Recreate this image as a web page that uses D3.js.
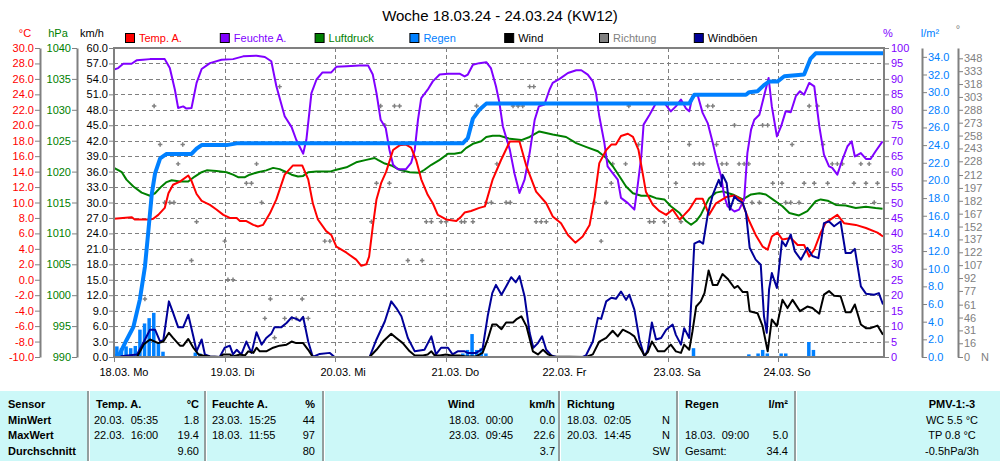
<!DOCTYPE html>
<html><head><meta charset="utf-8">
<script src="https://cdn.jsdelivr.net/npm/d3@7"></script>
<style>
body{margin:0;background:#fff;}
svg{display:block;font-family:"Liberation Sans",Arial,sans-serif;}
.pre{white-space:pre;}
</style>
</head><body><svg id="c" width="1000" height="461"></svg>
<script>
// ---------- DATA (time in hours from 18.03.24 00:00) ----------
const title = "Woche 18.03.24 - 24.03.24 (KW12)";
const dayLabels = ["18.03. Mo","19.03. Di","20.03. Mi","21.03. Do","22.03. Fr","23.03. Sa","24.03. So"];
const tempTicks = [-10,-8,-6,-4,-2,0,2,4,6,8,10,12,14,16,18,20,22,24,26,28,30];
const pressTicks = [990,995,1000,1005,1010,1015,1020,1025,1030,1035,1040];
const windTicks = [0,3,6,9,12,15,18,21,24,27,30,33,36,39,42,45,48,51,54,57,60];
const humTicks = [0,5,10,15,20,25,30,35,40,45,50,55,60,65,70,75,80,85,90,95,100];
const rainTicks = [0,2,4,6,8,10,12,14,16,18,20,22,24,26,28,30,32,34];
const dirTicks = [0,16,31,46,61,77,92,107,122,137,152,167,182,197,212,228,243,258,273,288,303,318,333,348];

const temp = [[0,7.9],[3.8,8.1],[4.5,7.8],[7.8,7.8],[8.5,7.9],[9.6,8.4],[11.0,9.3],[11.8,11.2],[12.8,12.3],[14.3,12.7],[16.1,13.5],[16.8,12.8],[17.9,11.1],[19.0,10.2],[20.8,9.7],[22.2,9.1],[23.7,8.4],[25.1,8.0],[26.6,8.0],[27.3,7.6],[28.7,7.6],[30.2,7.1],[31.2,6.9],[32.3,7.1],[33.8,8.6],[35.2,10.4],[37.0,13.6],[38.8,14.8],[40.8,14.8],[42.1,13.0],[43.1,9.9],[44.2,7.8],[46.0,6.3],[47.1,5.8],[48.2,4.3],[50.4,3.5],[52.5,2.6],[53.6,1.8],[54.7,2.0],[55.3,3.0],[56.1,6.9],[56.9,10.4],[57.9,12.5],[59.0,14.0],[60.5,16.8],[61.9,17.4],[63.3,17.5],[64.4,17.1],[65.5,15.5],[66.6,13.0],[68.0,11.0],[69.1,9.9],[70.2,8.4],[72.0,7.8],[74.2,7.6],[75.3,8.2],[76.0,8.7],[77.4,8.9],[79.2,9.3],[80.4,9.5],[82.1,13.0],[83.9,15.5],[85.8,17.9],[87.9,17.9],[89.4,14.7],[91.5,11.4],[93.7,9.9],[95.1,8.2],[96.9,7.3],[98.4,5.8],[100.0,4.8],[101.6,5.6],[103.1,7.1],[104.2,10.7],[105.2,15.1],[106.7,16.8],[107.8,17.5],[108.8,17.5],[109.9,18.6],[111.4,18.9],[112.5,18.5],[113.7,16.8],[114.6,13.8],[115.3,11.4],[116.8,9.7],[118.2,8.9],[119.7,8.4],[121.1,9.1],[122.6,7.8],[123.6,8.4],[124.7,9.1],[126.2,10.5],[127.6,10.5],[129.0,8.4],[130.5,9.9],[132.7,10.7],[134.5,10.9],[135.9,10.4],[137.7,7.6],[139.1,5.8],[140.6,4.3],[141.7,3.9],[142.6,5.6],[143.8,6.1],[144.9,5.2],[146.7,5.4],[148.2,4.5],[149.6,4.5],[150.7,3.0],[151.8,3.9],[153.2,6.1],[154.3,7.4],[156.8,8.4],[158.3,7.3],[160.8,7.1],[163.0,6.7],[165.5,6.1],[166.7,5.6]];

const humidity = [[0,93.0],[0.9,93.5],[2.0,94.9],[3.8,94.9],[4.9,96.0],[6.3,96.2],[7.8,96.4],[11.0,96.4],[12.1,93.5],[13.2,86.5],[13.9,80.6],[15.0,81.1],[15.7,80.4],[16.8,80.6],[17.9,88.7],[19.0,93.2],[20.8,95.1],[23.3,96.2],[25.8,96.4],[28.0,97.3],[30.9,97.5],[32.7,97.1],[34.1,95.7],[35.2,87.6],[37.0,77.9],[38.5,74.4],[39.5,70.3],[41.0,65.8],[41.7,70.3],[42.8,85.4],[43.9,89.8],[45.2,92.1],[47.1,92.1],[48.2,93.9],[50.4,94.1],[53.2,94.3],[55.1,94.3],[56.1,91.4],[56.9,85.4],[57.8,76.8],[58.9,74.1],[59.7,67.1],[60.5,62.2],[61.5,60.8],[63.3,60.8],[64.4,62.8],[65.2,67.1],[65.9,76.8],[66.6,83.8],[68.0,86.5],[69.1,89.2],[70.6,91.4],[72.4,91.7],[74.9,91.7],[76.0,90.8],[76.7,91.4],[77.8,94.6],[79.2,95.1],[80.7,95.4],[81.7,93.5],[82.8,87.6],[83.5,82.7],[84.3,74.6],[85.8,67.1],[86.8,59.5],[87.9,53.1],[89.0,57.4],[90.1,66.0],[91.2,76.8],[92.1,81.1],[93.3,81.7],[94.4,86.5],[95.1,88.7],[96.6,90.0],[98.4,91.9],[100.2,92.8],[101.3,92.8],[102.7,91.4],[103.8,89.2],[104.5,85.4],[105.2,77.9],[106.3,69.3],[107.0,61.7],[108.1,59.5],[109.2,57.4],[109.9,51.5],[111.4,49.8],[112.8,47.7],[113.5,55.2],[114.3,64.9],[114.8,75.2],[116.1,78.4],[117.5,82.2],[119.3,82.2],[120.7,79.5],[121.8,81.1],[122.9,83.3],[124.0,80.4],[124.7,79.5],[125.4,84.4],[126.5,84.9],[127.6,79.0],[128.7,75.7],[129.8,69.3],[130.8,62.8],[131.6,58.5],[132.3,52.0],[133.0,48.8],[134.5,47.1],[135.5,47.7],[136.6,50.9],[137.3,66.0],[138.1,73.6],[138.8,76.8],[139.9,78.4],[140.9,84.4],[141.9,90.3],[142.6,81.1],[143.7,71.4],[144.6,74.6],[145.6,79.5],[146.7,79.2],[147.8,84.4],[148.7,86.0],[149.6,84.9],[150.7,88.7],[151.8,87.6],[152.9,74.6],[153.9,65.5],[155.0,61.7],[155.7,61.2],[156.8,59.0],[157.9,63.9],[159.0,68.2],[159.9,69.8],[160.6,64.9],[161.9,66.0],[163.0,64.1],[164.0,64.1],[165.1,66.6],[166.6,69.8]];

const pressure = [[0,1020.6],[1.7,1019.9],[2.7,1018.7],[4.2,1017.6],[6.0,1016.6],[7.8,1016.1],[8.9,1016.5],[10.3,1017.6],[11.4,1018.3],[12.5,1018.6],[14.3,1018.4],[16.1,1018.4],[17.5,1019.2],[19.0,1019.9],[20.1,1020.2],[22.2,1020.1],[24.4,1019.9],[25.8,1019.5],[26.9,1019.1],[28.4,1019.1],[29.4,1019.5],[31.2,1019.9],[33.0,1020.2],[34.5,1020.6],[35.9,1020.4],[37.4,1019.9],[38.5,1019.5],[39.9,1019.2],[41.0,1019.3],[42.1,1019.9],[43.9,1020.0],[46.8,1020.0],[48.2,1020.3],[50.4,1020.7],[52.5,1021.5],[54.7,1021.9],[56.5,1022.2],[57.2,1021.9],[58.7,1021.3],[60.1,1021.0],[61.9,1020.3],[64.1,1019.9],[66.2,1019.8],[67.3,1020.3],[68.8,1021.1],[70.6,1021.9],[72.4,1022.9],[73.8,1022.9],[75.3,1023.1],[76.3,1023.8],[77.8,1024.5],[79.6,1024.9],[80.7,1025.6],[82.1,1025.8],[83.6,1025.8],[85.8,1025.3],[88.3,1025.1],[90.1,1025.6],[92.2,1026.5],[95.1,1026.0],[98.0,1025.6],[100.2,1024.6],[102.3,1024.0],[104.9,1023.3],[106.7,1022.2],[108.1,1020.9],[109.6,1019.2],[111.0,1017.6],[112.5,1016.5],[114.3,1016.1],[116.1,1016.1],[117.5,1015.7],[119.3,1015.5],[120.7,1014.4],[122.6,1013.3],[124.0,1012.0],[125.1,1011.4],[126.2,1012.0],[127.2,1013.0],[129.0,1015.7],[130.5,1016.6],[131.9,1016.8],[134.1,1016.3],[136.3,1015.5],[138.1,1016.3],[139.9,1016.5],[141.3,1016.3],[142.8,1015.5],[144.9,1014.4],[146.4,1013.3],[148.5,1012.9],[150.3,1013.6],[152.1,1015.2],[153.2,1015.5],[154.7,1015.3],[156.5,1014.6],[158.6,1014.5],[160.8,1014.1],[163.0,1014.3],[165.1,1014.1],[166.6,1014.0]];

const rainTotal = [[0,0],[1.3,0.4],[2.7,1.9],[4.2,3.4],[5.6,6.5],[6.7,10.2],[7.4,14.0],[8.2,18.5],[8.9,20.8],[10.0,22.5],[11.4,23.0],[16.8,23.0],[17.9,23.6],[19.0,24.0],[24.4,24.0],[26.6,24.2],[75.6,24.2],[76.7,24.8],[77.8,27.0],[79.2,28.0],[80.7,28.7],[124.7,28.7],[125.8,29.7],[137.0,29.7],[137.7,30.0],[139.5,30.1],[140.9,30.8],[142.0,31.2],[143.8,31.2],[145.3,31.8],[149.6,32.0],[150.3,32.9],[151.0,33.8],[152.1,34.4],[166.7,34.4]];

const rainHourly = [[1,1.2],[2,1.0],[3,1.2],[4,1.0],[5,1.25],[6,3.1],[7,3.8],[8,4.4],[9,5.0],[10,1.6],[11,0.6],[18,0.5],[19,0.4],[26,0.2],[76,0.4],[77,0.8],[78,2.6],[79,0.8],[80,1.0],[81,0.4],[126,1.0],[138,0.3],[140,0.4],[141,0.8],[142,0.4],[145,0.4],[146,0.4],[151,1.7],[152,0.8]];

const wind = [[0,0],[5,0],[6.5,2.5],[7.8,3.4],[9.6,2.7],[10.7,3.0],[11.9,4.7],[12.8,3.7],[14.3,2.2],[15.0,2.2],[16.1,3.5],[17.2,1.8],[18.3,0.5],[19.3,0.3],[20.8,0.1],[22.9,0],[23.7,0.5],[25.1,0.5],[25.8,0.1],[27.3,0.5],[28.4,0.3],[29.1,1.1],[30.2,0.8],[30.9,1.8],[31.6,1.1],[33.0,1.1],[34.5,1.8],[35.9,2.2],[37.4,2.4],[38.5,3.0],[39.5,2.7],[41.0,2.7],[42.1,1.4],[43.1,0],[55.4,0],[56.9,1.4],[58.3,3.0],[60.1,4.5],[61.2,3.7],[62.6,2.7],[64.1,1.1],[65.2,0.3],[67.0,0.3],[68.0,0.5],[68.8,1.1],[69.5,0.3],[70.6,0.3],[72.0,0.5],[73.1,0.3],[74.9,0.3],[76.3,0.1],[78.5,0.1],[79.9,0.8],[81.0,3.4],[82.0,6.3],[82.9,6.3],[84.0,5.4],[85.0,6.7],[86.5,6.7],[87.2,7.3],[88.3,7.9],[89.4,6.0],[90.8,1.1],[91.9,0.5],[93.0,1.4],[94.1,0.5],[95.1,0.1],[102.3,0],[103.8,0.5],[105.2,3.0],[106.7,3.7],[108.1,5.1],[109.2,4.0],[110.3,5.3],[111.7,4.7],[112.8,4.0],[113.9,2.0],[115.0,0.3],[115.7,0.9],[116.6,3.0],[117.9,1.1],[119.3,1.1],[120.7,2.4],[121.8,1.1],[122.9,0.8],[123.6,2.4],[124.7,1.4],[125.4,5.0],[126.2,9.8],[127.2,10.8],[128.0,12.4],[128.9,16.8],[129.8,14.0],[130.8,14.0],[131.9,16.1],[133.0,15.2],[134.5,13.4],[135.2,13.8],[136.3,12.6],[137.3,12.6],[137.8,8.9],[139.5,8.5],[140.6,6.0],[141.7,1.1],[142.6,7.3],[143.7,6.0],[144.9,11.1],[146.0,9.5],[147.1,11.1],[148.7,8.9],[150.3,9.8],[151.4,9.5],[152.9,8.4],[153.9,12.1],[155.0,12.8],[156.1,11.9],[157.5,11.8],[158.6,8.7],[159.7,8.7],[160.6,10.2],[161.9,6.3],[163.0,5.6],[164.0,5.6],[165.5,6.1],[166.7,4.3]];

const gusts = [[0,0],[5,0.5],[6.5,3],[7.8,5.3],[8.9,5.3],[10.0,3.0],[10.7,3.3],[11.9,10.8],[12.8,8.6],[13.9,5.8],[15.0,5.8],[16.1,8.2],[17.2,4.0],[17.9,1.1],[19.0,3.4],[19.7,0.5],[20.8,0.1],[22.9,0],[24.0,1.8],[25.1,2.2],[25.8,0.5],[26.6,1.4],[27.6,0.5],[28.7,3.0],[29.8,0.8],[30.9,4.8],[32.0,2.4],[33.0,3.7],[34.1,4.5],[34.8,5.8],[36.3,5.8],[37.4,6.6],[38.5,7.7],[39.5,7.4],[40.3,7.0],[41.0,7.8],[42.1,3.0],[43.1,0],[44.6,0.6],[46.8,0.8],[47.8,0],[55.4,0],[56.9,3.4],[58.7,6.9],[60.1,10.8],[61.2,9.5],[62.3,7.9],[63.7,3.7],[65.2,1.1],[67.3,1.4],[68.8,4.0],[69.8,0.5],[70.9,1.8],[72.4,1.8],[73.4,0.5],[74.5,1.1],[76.0,1.1],[76.7,0.8],[78.5,0.8],[79.9,1.6],[81.0,7.9],[82.0,12.4],[82.8,14.0],[84.0,12.1],[85.0,13.7],[86.1,15.5],[87.1,14.5],[87.9,15.7],[89.0,11.8],[90.1,4.7],[90.9,1.8],[91.9,2.7],[92.8,4.0],[93.7,1.4],[94.8,0.3],[95.9,0],[101.6,0],[102.3,0.3],[103.8,3.0],[104.9,7.6],[105.6,7.4],[106.7,10.8],[107.8,11.5],[108.8,11.3],[109.9,12.7],[111.0,11.1],[111.7,12.1],[112.8,9.2],[113.9,3.4],[115.0,0],[115.7,1.4],[116.6,6.7],[117.5,3.4],[118.6,3.7],[119.7,5.3],[121.1,6.3],[121.8,4.3],[122.9,2.4],[123.6,5.6],[124.7,3.7],[125.4,15.0],[125.8,22.0],[126.9,22.5],[127.7,22.0],[128.7,27.6],[129.8,31.5],[130.5,33.1],[131.1,34.4],[131.6,33.1],[131.9,35.4],[132.8,33.8],[133.5,28.6],[134.5,31.2],[135.2,30.5],[136.3,29.9],[137.0,28.0],[137.8,21.2],[139.1,18.9],[140.2,17.9],[140.9,7.9],[141.5,4.7],[142.0,13.1],[142.6,16.3],[143.7,13.4],[144.8,22.5],[145.6,21.5],[146.7,23.8],[147.6,20.5],[148.9,18.9],[150.3,21.2],[151.4,19.6],[152.7,19.2],[153.9,26.0],[155.0,26.3],[156.1,25.4],[157.5,26.3],[158.6,20.2],[159.7,20.2],[160.6,21.0],[161.9,13.7],[163.0,12.3],[164.8,12.1],[165.8,12.4],[166.7,10.2]];

const direction = [[6.7,67.5],[8.7,292.5],[10.0,247.5],[11.0,180],[12.1,180],[13.0,180],[13.9,225],[14.9,247.5],[16.8,112.5],[17.9,157.5],[24.0,135],[24.7,90],[25.8,90],[28.7,202.5],[29.8,202.5],[30.9,225],[32.0,180],[32.7,45],[33.9,67.5],[34.8,22.5],[35.9,315],[37.0,45],[38.6,45],[39.5,45],[40.8,67.5],[41.0,45],[42.1,45],[45.7,135],[46.8,135],[55.8,157.5],[56.9,202.5],[57.8,292.5],[58.7,270],[59.7,202.5],[60.8,292.5],[61.9,292.5],[63.7,112.5],[66.8,112.5],[67.7,157.5],[68.8,157.5],[70.9,157.5],[72.0,157.5],[75.3,157.5],[76.0,157.5],[77.8,157.5],[78.6,292.5],[80.7,180],[81.8,180],[83.0,225],[85.0,180],[85.9,180],[86.5,292.5],[87.6,292.5],[88.6,292.5],[90.1,315],[91.0,315],[91.5,157.5],[92.6,157.5],[93.7,157.5],[104.2,180],[105.6,135],[106.7,180],[107.8,202.5],[108.1,225],[110.9,225],[111.6,292.5],[113.7,247.5],[116.1,157.5],[117.0,157.5],[119.3,157.5],[121.8,202.5],[122.9,157.5],[124.7,247.5],[125.8,225],[126.9,225],[127.7,225],[128.7,292.5],[129.8,292.5],[130.6,247.5],[131.8,225],[132.8,225],[134.5,270],[135.5,225],[136.6,225],[137.6,225],[138.3,180],[139.9,180],[140.6,270],[141.7,270],[142.8,202.5],[144.8,202.5],[145.6,180],[146.7,180],[147.0,247.5],[148.5,180],[149.6,202.5],[150.7,292.5],[151.8,202.5],[152.5,292.5],[153.7,247.5],[154.7,202.5],[155.7,225],[156.8,225],[157.9,225],[160.4,202.5],[161.9,225],[163.0,202.5],[163.7,225],[164.8,180],[165.5,202.5]];

const legendItems = ["Temp. A.","Feuchte A.","Luftdruck","Regen","Wind","Richtung","Windböen"];
const tableHeader = ["Sensor","MinWert","MaxWert","Durchschnitt"];

// ---------- DRAW ----------
const svg = d3.select('#c');
const L=114, R=884, T=48, B=357;
const GRAY="#808080";
const col = {temp:"#ff0000", hum:"#8000ff", press:"#008000", rain:"#0080ff", wind:"#000000", dir:"#808080", gust:"#000099"};

const x = d3.scaleLinear().domain([0,168]).range([L, 889]);
const yT = d3.scaleLinear().domain([-10,30]).range([B,T]);
const yP = d3.scaleLinear().domain([990,1040]).range([B,T]);
const yW = d3.scaleLinear().domain([0,60]).range([B,T]);
const yH = d3.scaleLinear().domain([0,100]).range([B,T]);
const yR = d3.scaleLinear().domain([0,35]).range([B,T]);
const yD = d3.scaleLinear().domain([0,360]).range([B,T]);

// title
svg.append("text").attr("x",500).attr("y",21).attr("text-anchor","middle")
  .attr("font-size",15).text(title);

// legend
const legCols=[col.temp,col.hum,col.press,col.rain,col.wind,col.dir,col.gust];
const legText=[col.temp,col.hum,col.press,col.rain,"#000",GRAY,"#000"];
legendItems.forEach((t,i)=>{
  const lx=125+i*94.8;
  svg.append("rect").attr("x",lx+0.5).attr("y",33.5).attr("width",9).attr("height",9)
    .attr("fill",legCols[i]).attr("stroke","#000").attr("stroke-width",1);
  svg.append("text").attr("x",lx+14).attr("y",42).attr("font-size",11).attr("fill",legText[i]).text(t);
});

// grid
const grid = svg.append("g").attr("stroke",GRAY).attr("stroke-width",1).attr("stroke-dasharray","4,3");
windTicks.slice(1,-1).forEach(v=>{
  grid.append("line").attr("x1",L).attr("x2",R).attr("y1",Math.round(yW(v))+0.5).attr("y2",Math.round(yW(v))+0.5);
});
d3.range(1,7).forEach(k=>{
  grid.append("line").attr("x1",Math.round(x(24*k))+0.5).attr("x2",Math.round(x(24*k))+0.5).attr("y1",T).attr("y2",B);
});

// clip
svg.append("clipPath").attr("id","pc").append("rect").attr("x",L).attr("y",T).attr("width",R-L).attr("height",B-T);
const plot = svg.append("g").attr("clip-path","url(#pc)");

// rain bars
plot.selectAll(".rb").data(rainHourly).join("rect")
  .attr("x",d=>x(d[0])-3.5).attr("width",3.5)
  .attr("y",d=>yR(d[1])).attr("height",d=>B-yR(d[1])).attr("fill",col.rain);

// direction dots
const sym = d3.symbol().type(d3.symbolCross).size(11);
plot.selectAll(".dd").data(direction).join("path")
  .attr("d",sym).attr("transform",d=>`translate(${x(d[0])},${yD(d[1])})`).attr("fill",col.dir);

function line(data, ys, color, w){
  plot.append("path").datum(data)
    .attr("d", d3.line().x(d=>x(d[0])).y(d=>ys(d[1])))
    .attr("fill","none").attr("stroke",color).attr("stroke-width",w).attr("stroke-linejoin","round");
}
line(pressure, yP, col.press, 2);
line(humidity, yH, col.hum, 2);
line(temp, yT, col.temp, 2);
line(gusts, yW, col.gust, 2);
line(wind, yW, col.wind, 2);
line(rainTotal, yR, col.rain, 4);

// frame
svg.append("rect").attr("x",L).attr("y",T).attr("width",R-L).attr("height",B-T)
  .attr("fill","none").attr("stroke",GRAY).attr("stroke-width",2);

// day ticks & labels
d3.range(0,7).forEach(k=>{
  const xx=Math.round(x(24*k))+0.5;
  svg.append("line").attr("x1",xx).attr("x2",xx).attr("y1",B).attr("y2",B+5).attr("stroke",GRAY);
  svg.append("text").attr("x",xx-15).attr("y",376).attr("font-size",11).text(dayLabels[k]);
});

// axes helper
function styleAxis(g,color){
  g.selectAll("path").attr("stroke",GRAY).attr("stroke-width",2);
  g.selectAll("line").attr("stroke",GRAY);
  g.selectAll("text").attr("fill",color).attr("font-size",11).attr("font-family","Liberation Sans, Arial, sans-serif");
}
const f1 = d=>d.toFixed(1);
let g;
g = svg.append("g").attr("transform","translate(40,0)")
  .call(d3.axisLeft(yT).tickValues(tempTicks).tickFormat(f1).tickSize(5).tickSizeOuter(0).tickPadding(1));
styleAxis(g,col.temp);
g = svg.append("g").attr("transform","translate(77,0)")
  .call(d3.axisLeft(yP).tickValues(pressTicks).tickFormat(d=>d).tickSize(5).tickSizeOuter(0).tickPadding(1));
styleAxis(g,col.press);
g = svg.append("g").attr("transform","translate(114,0)")
  .call(d3.axisLeft(yW).tickValues(windTicks).tickFormat(f1).tickSize(5).tickSizeOuter(0).tickPadding(1));
styleAxis(g,"#000"); g.select("path").remove();
g = svg.append("g").attr("transform","translate(884,0)")
  .call(d3.axisRight(yH).tickValues(humTicks).tickFormat(d=>d).tickSize(5).tickSizeOuter(0).tickPadding(2));
styleAxis(g,col.hum); g.select("path").remove();
g = svg.append("g").attr("transform","translate(922,0)")
  .call(d3.axisRight(yR).tickValues(rainTicks).tickFormat(f1).tickSize(5).tickSizeOuter(0).tickPadding(1));
styleAxis(g,col.rain);
g = svg.append("g").attr("transform","translate(958,0)")
  .call(d3.axisRight(yD).tickValues(dirTicks).tickFormat(d=>d).tickSize(5).tickSizeOuter(0).tickPadding(1));
styleAxis(g,GRAY);
svg.append("text").attr("x",981).attr("y",361).attr("font-size",11).attr("fill",GRAY).text("N");

// units
const units=[["°C",25,37,col.temp],["hPa",58,37,col.press],["km/h",92,37,"#000"],["%",888,37,col.hum],["l/m²",930,37,col.rain],["°",958,33,GRAY]];
units.forEach(u=>svg.append("text").attr("x",u[1]).attr("y",u[2]).attr("text-anchor","middle").attr("font-size",11).attr("fill",u[3]).text(u[0]));

// ---------- TABLE ----------
svg.append("rect").attr("x",0).attr("y",391).attr("width",1000).attr("height",70).attr("fill","#ccf8f8");
[88,205,323,559,677,795].forEach(sx=>{
  svg.append("line").attr("x1",sx).attr("x2",sx).attr("y1",391).attr("y2",461).attr("stroke",GRAY).attr("stroke-width",1.5);
  svg.append("line").attr("x1",sx+1.5).attr("x2",sx+1.5).attr("y1",391).attr("y2",461).attr("stroke","#fff").attr("stroke-width",1);
});
const rowsY=[408,424,439,455];
function tt(tx,ty,s,opt={}){
  svg.append("text").attr("class","pre").attr("x",tx).attr("y",ty).attr("font-size",11)
    .attr("font-weight",opt.b?"bold":"normal").attr("text-anchor",opt.a||"start").text(s);
}
tableHeader.forEach((s,i)=>tt(8,rowsY[i],s,{b:1}));
// Temp
tt(96,rowsY[0],"Temp. A.",{b:1}); tt(199,rowsY[0],"°C",{b:1,a:"end"});
tt(94,rowsY[1],"20.03.  05:35"); tt(199,rowsY[1],"1.8",{a:"end"});
tt(94,rowsY[2],"22.03.  16:00"); tt(199,rowsY[2],"19.4",{a:"end"});
tt(199,rowsY[3],"9.60",{a:"end"});
// Feuchte
tt(212,rowsY[0],"Feuchte A.",{b:1}); tt(315,rowsY[0],"%",{b:1,a:"end"});
tt(212,rowsY[1],"23.03.  15:25"); tt(315,rowsY[1],"44",{a:"end"});
tt(212,rowsY[2],"18.03.  11:55"); tt(315,rowsY[2],"97",{a:"end"});
tt(315,rowsY[3],"80",{a:"end"});
// Wind
tt(448,rowsY[0],"Wind",{b:1}); tt(555,rowsY[0],"km/h",{b:1,a:"end"});
tt(449,rowsY[1],"18.03.  00:00"); tt(555,rowsY[1],"0.0",{a:"end"});
tt(449,rowsY[2],"23.03.  09:45"); tt(555,rowsY[2],"22.6",{a:"end"});
tt(555,rowsY[3],"3.7",{a:"end"});
// Richtung
tt(567,rowsY[0],"Richtung",{b:1});
tt(567,rowsY[1],"18.03.  02:05"); tt(670,rowsY[1],"N",{a:"end"});
tt(567,rowsY[2],"20.03.  14:45"); tt(670,rowsY[2],"N",{a:"end"});
tt(670,rowsY[3],"SW",{a:"end"});
// Regen
tt(685,rowsY[0],"Regen",{b:1}); tt(788,rowsY[0],"l/m²",{b:1,a:"end"});
tt(685,rowsY[2],"18.03.  09:00"); tt(788,rowsY[2],"5.0",{a:"end"});
tt(685,rowsY[3],"Gesamt:"); tt(788,rowsY[3],"34.4",{a:"end"});
// PMV
tt(952,rowsY[0],"PMV-1:-3",{b:1,a:"middle"});
tt(952,rowsY[1],"WC 5.5 °C",{a:"middle"});
tt(952,rowsY[2],"TP 0.8 °C",{a:"middle"});
tt(952,rowsY[3],"-0.5hPa/3h",{a:"middle"});
</script>
</body></html>
